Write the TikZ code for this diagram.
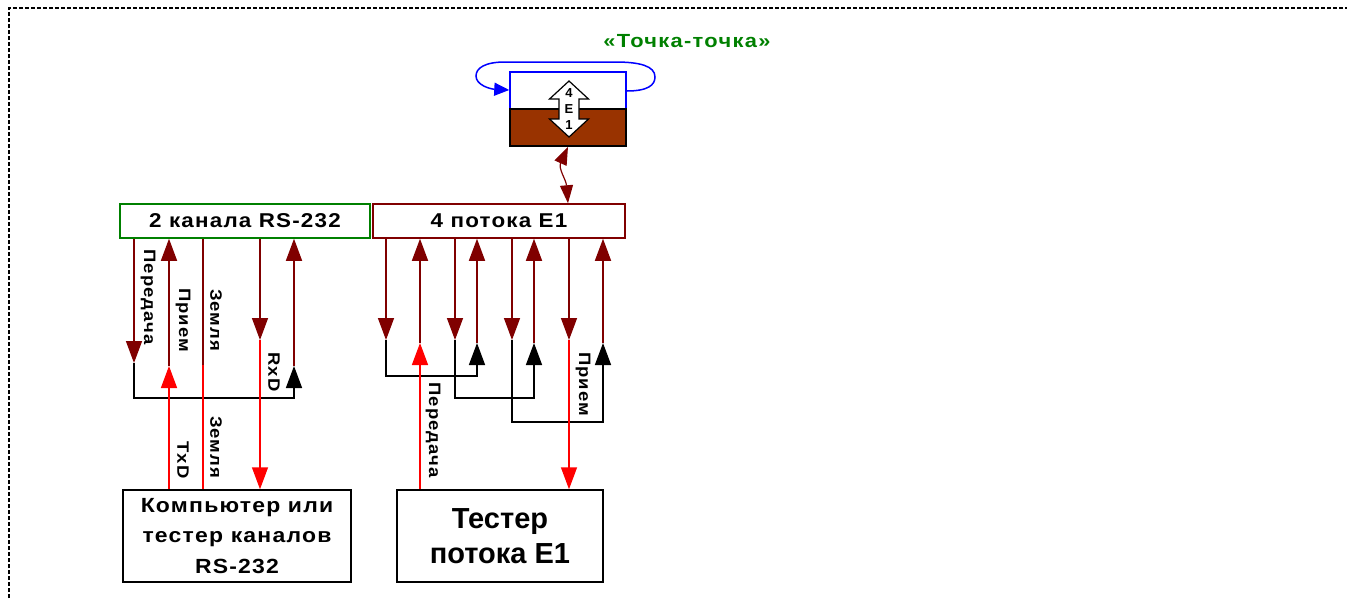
\documentclass[tikz,border=0pt]{standalone}
\usepackage{fontspec}
\setmainfont{Liberation Sans}
\newfontfamily\wideface[FakeStretch=1.12,LetterSpace=6]{Liberation Sans}
\newfontfamily\titleface[FakeStretch=1.15,LetterSpace=7]{Liberation Sans}
\usetikzlibrary{positioning, arrows.meta, calc}
\definecolor{dkred}{RGB}{128,0,0}
\definecolor{boxgreen}{RGB}{0,128,0}
\definecolor{muxbrown}{RGB}{153,51,0}
\tikzset{
  sigtip/.tip={Triangle[length=22pt,width=16pt]},
  % Frame
  frame/.style={draw, line width=1.5pt, dash pattern=on 4pt off 2pt},
  % Interface boxes
  rsbox/.style={
    draw=boxgreen, line width=1.5pt, fill=white, inner sep=0pt,
    minimum width=250pt, minimum height=34pt,
    font=\wideface\bfseries\fontsize{20}{24}\selectfont
  },
  e1box/.style={rsbox, draw=dkred, minimum width=252pt},
  % Equipment boxes
  devbox/.style={
    draw, line width=1.5pt, fill=white, inner sep=0pt, align=center,
    minimum height=92pt,
    font=\wideface\bfseries\fontsize{20.5}{30.5}\selectfont
  },
  testbox/.style={devbox, font=\bfseries\fontsize{29}{35}\selectfont},
  % Multiplexer
  muxtop/.style={draw=blue, line width=1.5pt, fill=white, inner sep=0pt,
    minimum width=116pt, minimum height=37pt},
  muxbot/.style={muxtop, draw=black, fill=muxbrown},
  muxlbl/.style={align=center, inner sep=0pt,
    font=\bfseries\fontsize{13}{16}\selectfont},
  title/.style={text=boxgreen, inner sep=0pt,
    font=\titleface\bfseries\fontsize{19}{22}\selectfont},
  % Signal lines
  sig/.style={draw=dkred, line width=1.5pt},
  sigdown/.style={sig, -sigtip},
  sigup/.style={sig, sigtip-},
  feed/.style={draw=red, line width=1.5pt},
  feedin/.style={feed, -sigtip},
  loopback/.style={draw=black, line width=1.5pt, -sigtip},
  wire/.style={rotate=-90, inner sep=0pt,
    font=\wideface\bfseries\fontsize{16.5}{18}\selectfont},
  link/.style={draw=dkred, line width=1.2pt,
    {Triangle[length=18pt,width=13pt]}-{Triangle[length=18pt,width=13pt]}},
  ring/.style={draw=blue, line width=1.5pt, -{Triangle[length=15pt,width=13pt]}},
}

\begin{document}
\begin{tikzpicture}[x=1pt, y=-1pt]
  \useasboundingbox (0,0) rectangle (1347,598);
  \draw[frame] (9,598) -- (9,8) -- (1347,8);

  %% ── Multiplexer ──
  \node[title] (p2p) at (687,41) {«Точка-точка»};
  \node[muxtop] (muxT) at (568,90.5) {};
  \node[muxbot] (muxB) at (568,127.5) {};
  \begin{scope}[shift={(569,109)}]
    \draw[fill=white, line width=1.2pt]
      (0,-28) -- (19.5,-10) -- (10,-10) -- (10,10) -- (19.5,10) -- (0,28)
      -- (-19.5,10) -- (-10,10) -- (-10,-10) -- (-19.5,-10) -- cycle;
  \end{scope}
  \node[muxlbl] (muxLbl) at (569,109) {4\\E\\1};
  \draw[ring] ([yshift=-0.5pt]muxT.east) .. controls (648,91) and (655,85) .. (655,77)
    .. controls (655,66) and (640,62) .. (615,62) -- (505,62)
    .. controls (485,62) and (476,68) .. (476,76)
    .. controls (476,85) and (490,89) .. ([yshift=0.5pt]muxT.west);

  %% ── Interfaces ──
  \node[rsbox] (rs) at (245,221) {2 канала RS-232};
  \node[e1box] (e1) at (499,221) {4 потока E1};
  \draw[link] (muxB.south) .. controls +(-10,22) and +(-2,-24) .. (e1.north -| muxB.south);

  %% ── Equipment ──
  \node[devbox, minimum width=228pt] (pc) at (237,536) {Компьютер или\\тестер каналов\\RS-232};
  \node[testbox, minimum width=206pt] (tst) at (500,536) {Тестер\\потока E1};

  %% ── RS-232 channels ──
  \coordinate (rsTx)  at (134,363);
  \coordinate (rsIn)  at (169,366);
  \coordinate (rsGnd) at (203,365);
  \coordinate (rsOut) at (260,340);
  \coordinate (rsRx)  at (294,366);
  \draw[sigdown] (rs.south -| rsTx) -- (rsTx);
  \draw[sigup] (rs.south -| rsIn) -- (rsIn);
  \draw[sig] (rs.south -| rsGnd) -- (rsGnd);
  \draw[sigdown] (rs.south -| rsOut) -- (rsOut);
  \draw[sigup] (rs.south -| rsRx) -- (rsRx);
  \draw[loopback] (rsTx) -- ++(0,35) -| (rsRx);
  \draw[feedin] (pc.north -| rsIn) -- (rsIn);
  \draw[feed] (rsGnd) -- (pc.north -| rsGnd);
  \draw[feedin] (rsOut) -- (pc.north -| rsOut);

  \node[wire] (lTx)   at (148,297) {Передача};
  \node[wire] (lIn)   at (183,320) {Прием};
  \node[wire] (lGnd)  at (216,320) {Земля};
  \node[wire] (lRxD)  at (274,372) {RxD};
  \node[wire] (lTxD)  at (183,460) {TxD};
  \node[wire] (lGndB) at (216,447) {Земля};

  %% ── E1 streams ──
  \coordinate (e1OutA) at (386,340);
  \coordinate (e1OutB) at (455,340);
  \coordinate (e1OutC) at (512,340);
  \coordinate (e1OutD) at (569,340);
  \coordinate (e1RetA) at (420,343);
  \coordinate (e1RetB) at (477,343);
  \coordinate (e1RetC) at (534,343);
  \coordinate (e1RetD) at (603,343);
  \draw[sigdown] (e1.south -| e1OutA) -- (e1OutA);
  \draw[sigdown] (e1.south -| e1OutB) -- (e1OutB);
  \draw[sigdown] (e1.south -| e1OutC) -- (e1OutC);
  \draw[sigdown] (e1.south -| e1OutD) -- (e1OutD);
  \draw[sigup] (e1.south -| e1RetA) -- (e1RetA);
  \draw[sigup] (e1.south -| e1RetB) -- (e1RetB);
  \draw[sigup] (e1.south -| e1RetC) -- (e1RetC);
  \draw[sigup] (e1.south -| e1RetD) -- (e1RetD);
  \draw[loopback] (e1OutA) -- ++(0,36) -| (e1RetB);
  \draw[loopback] (e1OutB) -- ++(0,58) -| (e1RetC);
  \draw[loopback] (e1OutC) -- ++(0,82) -| (e1RetD);
  \draw[feedin] (tst.north -| e1RetA) -- (e1RetA);
  \draw[feedin] (e1OutD) -- (tst.north -| e1OutD);

  \node[wire] (lE1Tx) at (433,430) {Передача};
  \node[wire] (lE1Rx) at (583,384) {Прием};

\end{tikzpicture}
\end{document}
